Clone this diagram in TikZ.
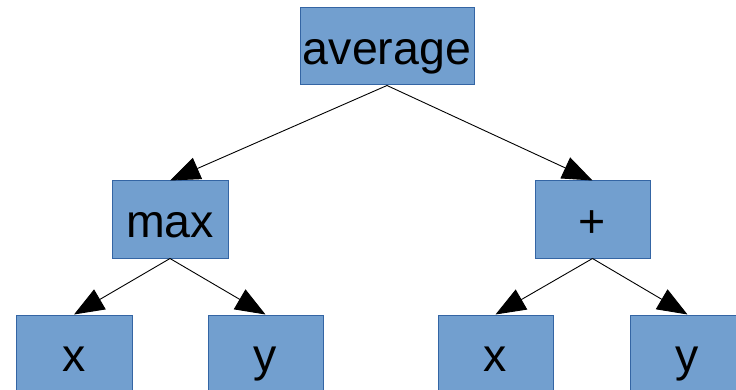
\documentclass[tikz,border=0pt]{standalone}
\usepackage{fontspec}
\setmainfont{Liberation Sans}
\usepackage{xcolor}
\usetikzlibrary{arrows.meta,positioning}
\definecolor{boxfill}{HTML}{729FCF}
\definecolor{boxline}{HTML}{3465A4}

\begin{document}
\begin{tikzpicture}[
    x=1pt, y=-1pt,
    term/.style={rectangle, draw=boxline, fill=boxfill, line width=1pt, inner sep=0pt, minimum width=116pt, minimum height=77pt, text height=36pt, text depth=0pt, text centered, font=\fontsize{46.5}{54}\selectfont},
    arrow/.style={-{Triangle[length=30pt,width=23pt]}, line width=0.9pt, color=black}
]
    \useasboundingbox (0,0) rectangle (736,390);

    % Root
    \node[term, minimum width=174pt] (avg) at (387,46.5) {average};

    % Operators
    \node[term] (max) at (170,219.5) {max};
    \node[term, minimum width=115pt] (plus) at (592.5,219.5) {+};

    % Leaves
    \node[term] (x1) at (74,353.5) {x};
    \node[term, minimum width=115pt] (y1) at (265.5,353.5) {y};
    \node[term, minimum width=115pt] (x2) at (495.5,353.5) {x};
    \node[term, minimum width=115pt] (y2) at (687.5,353.5) {y};

    \draw[arrow] (avg.south) -- (max.north);
    \draw[arrow] (avg.south) -- (plus.north);
    \draw[arrow] (max.south) -- (x1.north);
    \draw[arrow] (max.south) -- (y1.north);
    \draw[arrow] (plus.south) -- (x2.north);
    \draw[arrow] (plus.south) -- (y2.north);
\end{tikzpicture}
\end{document}
